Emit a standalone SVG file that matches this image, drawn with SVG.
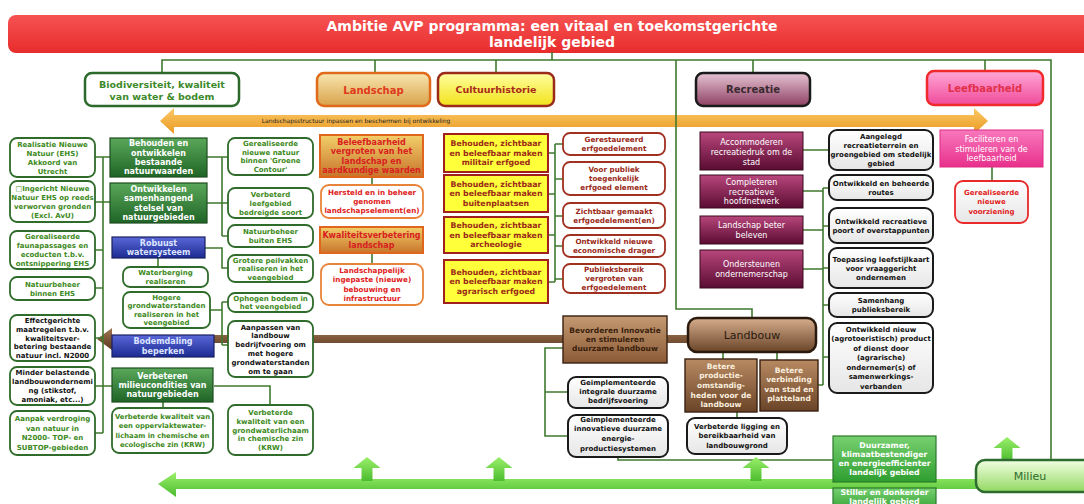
<svg xmlns="http://www.w3.org/2000/svg" width="1084" height="504" viewBox="0 0 1084 504">
<defs>
<linearGradient id="gBan" x1="0" y1="0" x2="0" y2="1"><stop offset="0" stop-color="#f65252"/><stop offset="1" stop-color="#e82c2c"/></linearGradient>
<linearGradient id="gGr" x1="0" y1="0" x2="0" y2="1"><stop offset="0" stop-color="#5aa85a"/><stop offset="1" stop-color="#1f6426"/></linearGradient>
<linearGradient id="gBl" x1="0" y1="0" x2="0" y2="1"><stop offset="0" stop-color="#5a68d8"/><stop offset="1" stop-color="#1c2a92"/></linearGradient>
<linearGradient id="gLandTop" x1="0" y1="0" x2="0" y2="1"><stop offset="0" stop-color="#f8e6b0"/><stop offset="1" stop-color="#d9a24a"/></linearGradient>
<linearGradient id="gLand" x1="0" y1="0" x2="0" y2="1"><stop offset="0" stop-color="#f2cf6a"/><stop offset="1" stop-color="#c8742a"/></linearGradient>
<linearGradient id="gYelTop" x1="0" y1="0" x2="0" y2="1"><stop offset="0" stop-color="#ffffa0"/><stop offset="1" stop-color="#f2e21a"/></linearGradient>
<linearGradient id="gRec" x1="0" y1="0" x2="0" y2="1"><stop offset="0" stop-color="#e6c4d2"/><stop offset="1" stop-color="#8e4064"/></linearGradient>
<linearGradient id="gMar" x1="0" y1="0" x2="0" y2="1"><stop offset="0" stop-color="#b8467c"/><stop offset="1" stop-color="#5a0c32"/></linearGradient>
<linearGradient id="gLeef" x1="0" y1="0" x2="0" y2="1"><stop offset="0" stop-color="#ffa8d6"/><stop offset="1" stop-color="#f04a9a"/></linearGradient>
<linearGradient id="gPink" x1="0" y1="0" x2="0" y2="1"><stop offset="0" stop-color="#f878bc"/><stop offset="1" stop-color="#e8308c"/></linearGradient>
<linearGradient id="gLb" x1="0" y1="0" x2="0" y2="1"><stop offset="0" stop-color="#d6ae8e"/><stop offset="1" stop-color="#6a4428"/></linearGradient>
<linearGradient id="gBrBox" x1="0" y1="0" x2="0" y2="1"><stop offset="0" stop-color="#b88a62"/><stop offset="1" stop-color="#6a4428"/></linearGradient>
<linearGradient id="gBev" x1="0" y1="0" x2="0" y2="1"><stop offset="0" stop-color="#c49a72"/><stop offset="1" stop-color="#8a5a36"/></linearGradient>
<linearGradient id="gMil" x1="0" y1="0" x2="0" y2="1"><stop offset="0" stop-color="#f2ffe2"/><stop offset="1" stop-color="#92d862"/></linearGradient>
<linearGradient id="gDu" x1="0" y1="0" x2="0" y2="1"><stop offset="0" stop-color="#78d070"/><stop offset="1" stop-color="#2e9e30"/></linearGradient>
<linearGradient id="gWg" x1="0" y1="0" x2="0" y2="1"><stop offset="0" stop-color="#ffffff"/><stop offset="1" stop-color="#e6e6e6"/></linearGradient>
<linearGradient id="gOr" x1="0" y1="0" x2="0" y2="1"><stop offset="0" stop-color="#fbc866"/><stop offset="1" stop-color="#e99a22"/></linearGradient>
<linearGradient id="gGb" x1="0" y1="0" x2="0" y2="1"><stop offset="0" stop-color="#9af06a"/><stop offset="1" stop-color="#4cbc30"/></linearGradient>
<linearGradient id="gBr" x1="0" y1="0" x2="0" y2="1"><stop offset="0" stop-color="#a07652"/><stop offset="1" stop-color="#5a3820"/></linearGradient>
</defs>
<style>
.c{fill:none;stroke:#3f7a2f;stroke-width:1.6}
.t{font-family:'DejaVu Sans','Liberation Sans',sans-serif;font-weight:bold;text-anchor:middle}
.r{font-weight:normal}
.s6{font-size:6px}
.s68{font-size:6.8px}
.s7{font-size:7px}
.s72{font-size:7.2px}
.s75{font-size:7.5px}
.s78{font-size:7.8px}
.s8{font-size:8px}
.s95{font-size:9.5px}
.s10{font-size:10px}
.s11{font-size:11px}
.s14{font-size:14px}
.g{fill:#3d8a22}
.k{fill:#111}
.w{fill:#fff}
.rd{fill:#e02222}
.dr{fill:#9a2a18}
.lw{fill:#fff;stroke:#2f6b2a;stroke-width:1.8}
.gb{fill:url(#gGr);stroke:#1d4d20;stroke-width:1.2}
.bb{fill:url(#gBl);stroke:#1a2060;stroke-width:1.2}
.ly{fill:url(#gLand);stroke:#e0661e;stroke-width:2}
.lo{fill:#fff;stroke:#e8843a;stroke-width:1.8}
.yb{fill:#ffff3a;stroke:#a02020;stroke-width:2}
.cr{fill:#fff;stroke:#a03020;stroke-width:1.8}
.mb{fill:url(#gMar);stroke:#3a0a20;stroke-width:1}
.kb{fill:url(#gWg);stroke:#1a1a1a;stroke-width:2}
.bx{fill:url(#gBrBox);stroke:#3a2010;stroke-width:1.4}
.du{fill:url(#gDu);stroke:#2a7a2a;stroke-width:1.2}
.up{fill:url(#gGb)}
</style>
<rect width="1084" height="504" fill="#fff"/>

<g id="banner">
<rect x="8" y="15" width="1090" height="38" rx="8" fill="url(#gBan)"/>
<text class="t s14 w"><tspan x="552" y="31">Ambitie AVP programma: een vitaal en toekomstgerichte</tspan><tspan x="552" y="47">landelijk gebied</tspan></text>
</g>

<g id="bands">
<path d="M160 121L174 108V115H974V108L988 121L974 134V127H174V134Z" fill="url(#gOr)"/>
<text class="t r s6" x="356" y="123.2" fill="#222">Landschapsstructuur inpassen en beschermen bij ontwikkeling</text>
<path d="M97 339L112 328V335H690V343H112V350Z" fill="url(#gBr)"/>
<path d="M158 484L176 472V479H980V489H176V497Z" fill="url(#gGb)"/>
</g>

<g id="connectors">
<path class="c" d="M552 52V60M162 73V60H1051V460M375 60V73M496 60V73M676 60V309H752V318M753 60V73M985 60V71"/>
<path class="c" d="M95 157H110M103 157V433M95 202H110M95 250H103M95 288H103M95 338H103M95 386H112M95 433H103"/>
<path class="c" d="M207 157H228M222 157V236M207 203H228M222 236H228M205 248H222V268H228M158 258V267M210 310H222M222 302V345M222 302H228M222 345H228M214 386H270V405M163 402V408"/>
<path class="c" d="M372 177V185M372 253V264"/>
<path class="c" d="M548 153H555M548 194H555M548 235H555M548 282H555M555 144V282M555 144H563M555 179H563M555 216H563M555 246H563M555 279H563"/>
<path class="c" d="M803 150H829M803 191H823M803 230H823M803 269H823M823 188V385M823 188H829M823 226H829M823 268H829M823 305H829M823 357H829M818 385H823"/>
<path class="c" d="M992 167V181"/>
<path class="c" d="M723 352V359M777 352V360M737 412V418M563 348H545V436H568M545 392H568M618 457V460H833"/>
</g>

<g id="up-arrows">
<path class="up" d="M367 457L380.5 468H372.5V481H361.5V468H353.5Z"/>
<path class="up" d="M499 457L512.5 468H504.5V481H493.5V468H485.5Z"/>
<path class="up" d="M756 457L769.5 468H761.5V481H750.5V468H742.5Z"/>
<path class="up" d="M1007 437L1020.5 448H1012.5V461H1001.5V448H993.5Z"/>
</g>

<g id="biodiversiteit"><rect x="85" y="73" width="154" height="33" rx="7" fill="#fff" stroke="#2b6a2b" stroke-width="2.5"/><text class="t s95" fill="#3d8a2a"><tspan x="162" y="88">Biodiversiteit, kwaliteit</tspan><tspan x="162" y="100">van water &amp; bodem</tspan></text></g>
<g id="landschap"><rect x="317" y="73" width="113" height="33" rx="7" fill="url(#gLandTop)" stroke="#e06a1a" stroke-width="2.5"/><text class="t s10" x="373.5" y="93.5" fill="#e03a1a">Landschap</text></g>
<g id="cultuurhistorie"><rect x="438" y="73" width="116" height="33" rx="7" fill="url(#gYelTop)" stroke="#9a2a1a" stroke-width="2.5"/><text class="t s95" x="496" y="93" fill="#a82a18">Cultuurhistorie</text></g>
<g id="recreatie"><rect x="696" y="73" width="114" height="33" rx="7" fill="url(#gRec)" stroke="#1a1a1a" stroke-width="2.5"/><text class="t s10" x="753" y="93" fill="#3a2a30">Recreatie</text></g>
<g id="leefbaarheid"><rect x="927" y="71" width="116" height="34" rx="7" fill="url(#gLeef)" stroke="#f02a2a" stroke-width="2.5"/><text class="t s10" x="985" y="91.5" fill="#e0304a">Leefbaarheid</text></g>

<g id="realisatie"><rect class="lw" x="10" y="138" width="85" height="39" rx="7"/><text class="t s7 g"><tspan x="52.5" y="146.5">Realisatie Nieuwe</tspan><tspan x="52.5" y="155.5">Natuur (EHS)</tspan><tspan x="52.5" y="164.5">Akkoord van</tspan><tspan x="52.5" y="173.5">Utrecht</tspan></text></g>
<g id="ingericht"><rect class="lw" x="10" y="181" width="85" height="41" rx="7"/><text class="t s7 g"><tspan x="52.5" y="190.5">□Ingericht Nieuwe</tspan><tspan x="52.5" y="199.5">Natuur EHS op reeds</tspan><tspan x="52.5" y="208.5">verworven gronden</tspan><tspan x="52.5" y="217.5">(Excl. AvU)</tspan></text></g>
<g id="faunapassages"><rect class="lw" x="10" y="231" width="85" height="38" rx="7"/><text class="t s7 g"><tspan x="52.5" y="239">Gerealiseerde</tspan><tspan x="52.5" y="248">faunapassages en</tspan><tspan x="52.5" y="257">ecoducten t.b.v.</tspan><tspan x="52.5" y="266">ontsnippering EHS</tspan></text></g>
<g id="natuurbeheer-binnen"><rect class="lw" x="10" y="277" width="85" height="23" rx="7"/><text class="t s7 g"><tspan x="52.5" y="286.5">Natuurbeheer</tspan><tspan x="52.5" y="295.5">binnen EHS</tspan></text></g>
<g id="effectgericht"><rect class="lw" x="10" y="315" width="85" height="46" rx="7"/><text class="t s7 k"><tspan x="52.5" y="323">Effectgerichte</tspan><tspan x="52.5" y="331.8">maatregelen t.b.v.</tspan><tspan x="52.5" y="340.6">kwaliteitsver-</tspan><tspan x="52.5" y="349.4">betering bestaande</tspan><tspan x="52.5" y="358.2">natuur incl. N2000</tspan></text></g>
<g id="minder-belastend"><rect class="lw" x="10" y="367" width="85" height="38" rx="7"/><text class="t s7 k"><tspan x="52.5" y="375">Minder belastende</tspan><tspan x="52.5" y="384">landbouwondernemi</tspan><tspan x="52.5" y="393">ng (stikstof,</tspan><tspan x="52.5" y="402">amoniak, etc...)</tspan></text></g>
<g id="aanpak-verdroging"><rect class="lw" x="10" y="411" width="85" height="44" rx="7"/><text class="t s7 g"><tspan x="52.5" y="421.3">Aanpak verdroging</tspan><tspan x="52.5" y="430.8">van natuur in</tspan><tspan x="52.5" y="440.3">N2000- TOP- en</tspan><tspan x="52.5" y="449.8">SUBTOP-gebieden</tspan></text></g>

<g id="behouden-natuur"><rect class="gb" x="110" y="138" width="97" height="39"/><text class="t s8 w"><tspan x="158.5" y="146.3">Behouden en</tspan><tspan x="158.5" y="155.6">ontwikkelen</tspan><tspan x="158.5" y="164.9">bestaande</tspan><tspan x="158.5" y="174.2">natuurwaarden</tspan></text></g>
<g id="ontwikkelen-stelsel"><rect class="gb" x="110" y="183" width="97" height="40"/><text class="t s8 w"><tspan x="158.5" y="191.9">Ontwikkelen</tspan><tspan x="158.5" y="201.2">samenhangend</tspan><tspan x="158.5" y="210.5">stelsel van</tspan><tspan x="158.5" y="219.8">natuurgebieden</tspan></text></g>
<g id="robuust"><rect class="bb" x="112" y="237" width="93" height="21"/><text class="t s8" fill="#dde4ff"><tspan x="158.5" y="245.6">Robuust</tspan><tspan x="158.5" y="254.9">watersysteem</tspan></text></g>
<g id="waterberging"><rect class="lw" x="123" y="267" width="85" height="20" rx="7"/><text class="t s7 g"><tspan x="165.5" y="275">Waterberging</tspan><tspan x="165.5" y="284">realiseren</tspan></text></g>
<g id="hogere-grondwater"><rect class="lw" x="123" y="292" width="87" height="36" rx="7"/><text class="t s7 g"><tspan x="166.5" y="299.8">Hogere</tspan><tspan x="166.5" y="308.3">grondwaterstanden</tspan><tspan x="166.5" y="316.8">realiseren in het</tspan><tspan x="166.5" y="325.3">veengebied</tspan></text></g>
<g id="bodemdaling"><rect class="bb" x="112" y="335" width="102" height="22"/><text class="t s8" fill="#dde4ff"><tspan x="163" y="344.2">Bodemdaling</tspan><tspan x="163" y="353.5">beperken</tspan></text></g>
<g id="milieucondities"><rect class="gb" x="112" y="368" width="101" height="34"/><text class="t s8 w"><tspan x="162.5" y="378.5">Verbeteren</tspan><tspan x="162.5" y="387.8">milieucondities van</tspan><tspan x="162.5" y="397.1">natuurgebieden</tspan></text></g>
<g id="oppervlaktewater"><rect class="lw" x="112" y="408" width="101" height="45" rx="7"/><text class="t s68 g"><tspan x="162.5" y="419">Verbeterde kwaliteit van</tspan><tspan x="162.5" y="428.3">een oppervlaktewater-</tspan><tspan x="162.5" y="437.6">lichaam in chemische en</tspan><tspan x="162.5" y="446.9">ecologische zin (KRW)</tspan></text></g>

<g id="groene-contour"><rect class="lw" x="228" y="138" width="85" height="37" rx="7"/><text class="t s7 g"><tspan x="270.5" y="145.8">Gerealiseerde</tspan><tspan x="270.5" y="154.6">nieuwe natuur</tspan><tspan x="270.5" y="163.4">binnen 'Groene</tspan><tspan x="270.5" y="172.2">Contour'</tspan></text></g>
<g id="leefgebied"><rect class="lw" x="228" y="188" width="85" height="30" rx="7"/><text class="t s7 g"><tspan x="270.5" y="196.5">Verbeterd</tspan><tspan x="270.5" y="205.5">leefgebied</tspan><tspan x="270.5" y="214.5">bedreigde soort</tspan></text></g>
<g id="natuurbeheer-buiten"><rect class="lw" x="228" y="225" width="85" height="22" rx="7"/><text class="t s7 g"><tspan x="270.5" y="234">Natuurbeheer</tspan><tspan x="270.5" y="243">buiten EHS</tspan></text></g>
<g id="peilvakken"><rect class="lw" x="228" y="255" width="85" height="27" rx="7"/><text class="t s7 g"><tspan x="270.5" y="262.5">Grotere peilvakken</tspan><tspan x="270.5" y="271">realiseren in het</tspan><tspan x="270.5" y="279.5">veengebied</tspan></text></g>
<g id="ophogen"><rect class="lw" x="228" y="293" width="85" height="19" rx="7"/><text class="t s7 g"><tspan x="270.5" y="300.8">Ophogen bodem in</tspan><tspan x="270.5" y="309.3">het veengebied</tspan></text></g>
<g id="aanpassen"><rect class="lw" x="228" y="321" width="85" height="56" rx="7"/><text class="t s7 k"><tspan x="270.5" y="329.5">Aanpassen van</tspan><tspan x="270.5" y="338.3">landbouw</tspan><tspan x="270.5" y="347.1">bedrijfvoering om</tspan><tspan x="270.5" y="355.9">met hogere</tspan><tspan x="270.5" y="364.7">grondwaterstanden</tspan><tspan x="270.5" y="373.5">om te gaan</tspan></text></g>
<g id="grondwaterlichaam"><rect class="lw" x="228" y="405" width="85" height="50" rx="7"/><text class="t s7 g"><tspan x="270.5" y="414.9">Verbeterde</tspan><tspan x="270.5" y="423.7">kwaliteit van een</tspan><tspan x="270.5" y="432.5">grondwaterlichaam</tspan><tspan x="270.5" y="441.3">in chemische zin</tspan><tspan x="270.5" y="450.1">(KRW)</tspan></text></g>

<g id="beleefbaarheid"><rect class="ly" x="320" y="135" width="103" height="42"/><text class="t s8" fill="#d82020"><tspan x="371.5" y="144.9">Beleefbaarheid</tspan><tspan x="371.5" y="154.2">vergroten van het</tspan><tspan x="371.5" y="163.5">landschap en</tspan><tspan x="371.5" y="172.8">aardkundige waarden</tspan></text></g>
<g id="hersteld"><rect class="lo" x="321" y="185" width="102" height="33" rx="8"/><text class="t s72 rd"><tspan x="372" y="194.7">Hersteld en in beheer</tspan><tspan x="372" y="204">genomen</tspan><tspan x="372" y="213.3">landschapselement(en)</tspan></text></g>
<g id="kwaliteitsverbetering"><rect class="ly" x="320" y="227" width="103" height="26"/><text class="t s8" fill="#d82020"><tspan x="371.5" y="238.2">Kwaliteitsverbetering</tspan><tspan x="371.5" y="247.5">landschap</tspan></text></g>
<g id="ingepaste-bebouwing"><rect class="lo" x="321" y="264" width="102" height="41" rx="8"/><text class="t s72 rd"><tspan x="372" y="273">Landschappelijk</tspan><tspan x="372" y="282.3">ingepaste (nieuwe)</tspan><tspan x="372" y="291.6">bebouwing en</tspan><tspan x="372" y="300.9">infrastructuur</tspan></text></g>

<g id="militair"><rect class="yb" x="444" y="134" width="104" height="38"/><text class="t s78 dr"><tspan x="496" y="146.4">Behouden, zichtbaar</tspan><tspan x="496" y="155.7">en beleefbaar maken</tspan><tspan x="496" y="165">militair erfgoed</tspan></text></g>
<g id="buitenplaatsen"><rect class="yb" x="444" y="175" width="104" height="37"/><text class="t s78 dr"><tspan x="496" y="186.9">Behouden, zichtbaar</tspan><tspan x="496" y="196.2">en beleefbaar maken</tspan><tspan x="496" y="205.5">buitenplaatsen</tspan></text></g>
<g id="archeologie"><rect class="yb" x="444" y="217" width="104" height="36"/><text class="t s78 dr"><tspan x="496" y="228.4">Behouden, zichtbaar</tspan><tspan x="496" y="237.7">en beleefbaar maken</tspan><tspan x="496" y="247">archeologie</tspan></text></g>
<g id="agrarisch-erfgoed"><rect class="yb" x="444" y="260" width="104" height="43"/><text class="t s78 dr"><tspan x="496" y="274.9">Behouden, zichtbaar</tspan><tspan x="496" y="284.2">en beleefbaar maken</tspan><tspan x="496" y="293.5">agrarisch erfgoed</tspan></text></g>

<g id="gerestaureerd"><rect class="cr" x="563" y="133" width="102" height="22" rx="7"/><text class="t s72 dr"><tspan x="614" y="142">Gerestaureerd</tspan><tspan x="614" y="151">erfgoedelement</tspan></text></g>
<g id="toegankelijk"><rect class="cr" x="563" y="162" width="102" height="33" rx="7"/><text class="t s72 dr"><tspan x="614" y="172">Voor publiek</tspan><tspan x="614" y="181">toegenkelijk</tspan><tspan x="614" y="190">erfgoed element</tspan></text></g>
<g id="zichtbaar-gemaakt"><rect class="cr" x="563" y="203" width="102" height="25" rx="7"/><text class="t s72 dr"><tspan x="614" y="213.5">Zichtbaar gemaakt</tspan><tspan x="614" y="222.5">erfgoedelement(en)</tspan></text></g>
<g id="economische-drager"><rect class="cr" x="563" y="235" width="102" height="22" rx="7"/><text class="t s72 dr"><tspan x="614" y="244">Ontwikkeld nieuwe</tspan><tspan x="614" y="253">economische drager</tspan></text></g>
<g id="publieksbereik-erfgoed"><rect class="cr" x="563" y="264" width="102" height="29" rx="7"/><text class="t s72 dr"><tspan x="614" y="272">Publieksbereik</tspan><tspan x="614" y="281">vergroten van</tspan><tspan x="614" y="290">erfgoedelement</tspan></text></g>

<g id="accommoderen"><rect class="mb" x="700" y="132" width="103" height="38"/><text class="t r s8 w"><tspan x="751.5" y="145">Accommoderen</tspan><tspan x="751.5" y="155">recreatiedruk om de</tspan><tspan x="751.5" y="165">stad</tspan></text></g>
<g id="completeren"><rect class="mb" x="700" y="175" width="103" height="33"/><text class="t r s8 w"><tspan x="751.5" y="185">Completeren</tspan><tspan x="751.5" y="194.5">recreatieve</tspan><tspan x="751.5" y="204">hoofdnetwerk</tspan></text></g>
<g id="landschap-beleven"><rect class="mb" x="700" y="216" width="103" height="28"/><text class="t r s8 w"><tspan x="751.5" y="227.5">Landschap beter</tspan><tspan x="751.5" y="238">beleven</tspan></text></g>
<g id="ondernemerschap"><rect class="mb" x="700" y="250" width="103" height="38"/><text class="t r s8 w"><tspan x="751.5" y="267">Ondersteunen</tspan><tspan x="751.5" y="277">ondernemerschap</tspan></text></g>

<g id="recreatieterrein"><rect class="kb" x="829" y="130" width="104" height="40" rx="8"/><text class="t s7 k"><tspan x="881" y="139">Aangelegd</tspan><tspan x="881" y="148">recreatieterrein en</tspan><tspan x="881" y="157">groengebied om stedelijk</tspan><tspan x="881" y="166">gebied</tspan></text></g>
<g id="routes"><rect class="kb" x="829" y="175" width="104" height="25" rx="8"/><text class="t s7 k"><tspan x="881" y="185.5">Ontwikkeld en beheerde</tspan><tspan x="881" y="194.5">routes</tspan></text></g>
<g id="poort"><rect class="kb" x="829" y="208" width="104" height="35" rx="8"/><text class="t s7 k"><tspan x="881" y="223.5">Ontwikkeld recreatieve</tspan><tspan x="881" y="232.5">poort of overstappunten</tspan></text></g>
<g id="leefstijlkaart"><rect class="kb" x="829" y="248" width="104" height="40" rx="8"/><text class="t s7 k"><tspan x="881" y="261.5">Toepassing leefstijlkaart</tspan><tspan x="881" y="270.5">voor vraaggericht</tspan><tspan x="881" y="279.5">ondernemen</tspan></text></g>
<g id="samenhang"><rect class="kb" x="829" y="293" width="104" height="24" rx="8"/><text class="t s7 k"><tspan x="881" y="303">Samenhang</tspan><tspan x="881" y="312">publieksbereik</tspan></text></g>
<g id="agrotoeristisch"><rect class="kb" x="829" y="323" width="104" height="70" rx="8"/><text class="t s7 k"><tspan x="881" y="331.5">Ontwikkeld nieuw</tspan><tspan x="881" y="341">(agrotoeristisch) product</tspan><tspan x="881" y="350.5">of dienst door</tspan><tspan x="881" y="360">(agrarische)</tspan><tspan x="881" y="369.5">ondernemer(s) of</tspan><tspan x="881" y="379">samenwerkings-</tspan><tspan x="881" y="388.5">verbanden</tspan></text></g>

<g id="faciliteren"><rect x="940" y="130" width="103" height="37" fill="url(#gPink)" stroke="#e02a80" stroke-width="1"/><text class="t r s8 w"><tspan x="991.5" y="142">Faciliteren en</tspan><tspan x="991.5" y="151.5">stimuleren van de</tspan><tspan x="991.5" y="161">leefbaarheid</tspan></text></g>
<g id="voorziening"><rect x="955" y="181" width="73" height="42" rx="8" fill="url(#gWg)" stroke="#e82a2a" stroke-width="1.8"/><text class="t s7 rd"><tspan x="991.5" y="194.5">Gerealiseerde</tspan><tspan x="991.5" y="204">nieuwe</tspan><tspan x="991.5" y="213.5">voorziening</tspan></text></g>

<g id="bevorderen"><rect x="563" y="316" width="104" height="47" fill="url(#gBev)" stroke="#3a2010" stroke-width="1.4"/><text class="t s75" fill="#3a1e0c"><tspan x="615" y="332.5">Bevorderen Innovatie</tspan><tspan x="615" y="342">en stimuleren</tspan><tspan x="615" y="351">duurzame landbouw</tspan></text></g>
<g id="landbouw"><rect x="688" y="318" width="128" height="34" rx="9" fill="url(#gLb)" stroke="#2a1a0e" stroke-width="2.5"/><text class="t r s11" x="752" y="339" fill="#2a1a10">Landbouw</text></g>
<g id="productieomstandigheden"><rect class="bx" x="685" y="359" width="72" height="53"/><text class="t s75" fill="#fbeede"><tspan x="721" y="368.5">Betere</tspan><tspan x="721" y="378.2">productie-</tspan><tspan x="721" y="387.9">omstandig-</tspan><tspan x="721" y="397.6">heden voor de</tspan><tspan x="721" y="407.3">landbouw</tspan></text></g>
<g id="stad-platteland"><rect class="bx" x="760" y="360" width="58" height="51"/><text class="t s75" fill="#fbeede"><tspan x="789" y="372.5">Betere</tspan><tspan x="789" y="382">verbinding</tspan><tspan x="789" y="391.5">van stad en</tspan><tspan x="789" y="401">platteland</tspan></text></g>
<g id="ligging"><rect class="kb" x="687" y="418" width="100" height="36" rx="8"/><text class="t s7 k"><tspan x="737" y="428.5">Verbeterde ligging en</tspan><tspan x="737" y="438">bereikbaarheid van</tspan><tspan x="737" y="447.5">landbouwgrond</tspan></text></g>
<g id="bedrijfsvoering"><rect class="kb" x="568" y="377" width="100" height="31" rx="8"/><text class="t s7 k"><tspan x="618" y="384.5">Geimplementeerde</tspan><tspan x="618" y="393.5">integrale duurzame</tspan><tspan x="618" y="402.5">bedrijfsvoering</tspan></text></g>
<g id="energie"><rect class="kb" x="568" y="415" width="100" height="42" rx="8"/><text class="t s7 k"><tspan x="618" y="421.5">Geimplementeerde</tspan><tspan x="618" y="431.3">innovatieve duurzame</tspan><tspan x="618" y="441.1">energie-</tspan><tspan x="618" y="450.9">productiesystemen</tspan></text></g>

<g id="duurzamer"><rect class="du" x="833" y="436" width="103" height="46"/><text class="t s78 w"><tspan x="884.5" y="447.5">Duurzamer,</tspan><tspan x="884.5" y="456.8">klimaatbestendiger</tspan><tspan x="884.5" y="466.1">en energieefficienter</tspan><tspan x="884.5" y="475.4">landelijk gebied</tspan></text></g>
<g id="stiller"><rect class="du" x="833" y="488" width="103" height="24"/><text class="t s78 w"><tspan x="884.5" y="495">Stiller en donkerder</tspan><tspan x="884.5" y="504">landelijk gebied</tspan></text></g>
<g id="milieu"><rect x="976" y="460" width="120" height="32" rx="9" fill="url(#gMil)" stroke="#2e6b2e" stroke-width="2.5"/><text class="t r s11" x="1030" y="480" fill="#2e6b2e">Milieu</text></g>
</svg>
